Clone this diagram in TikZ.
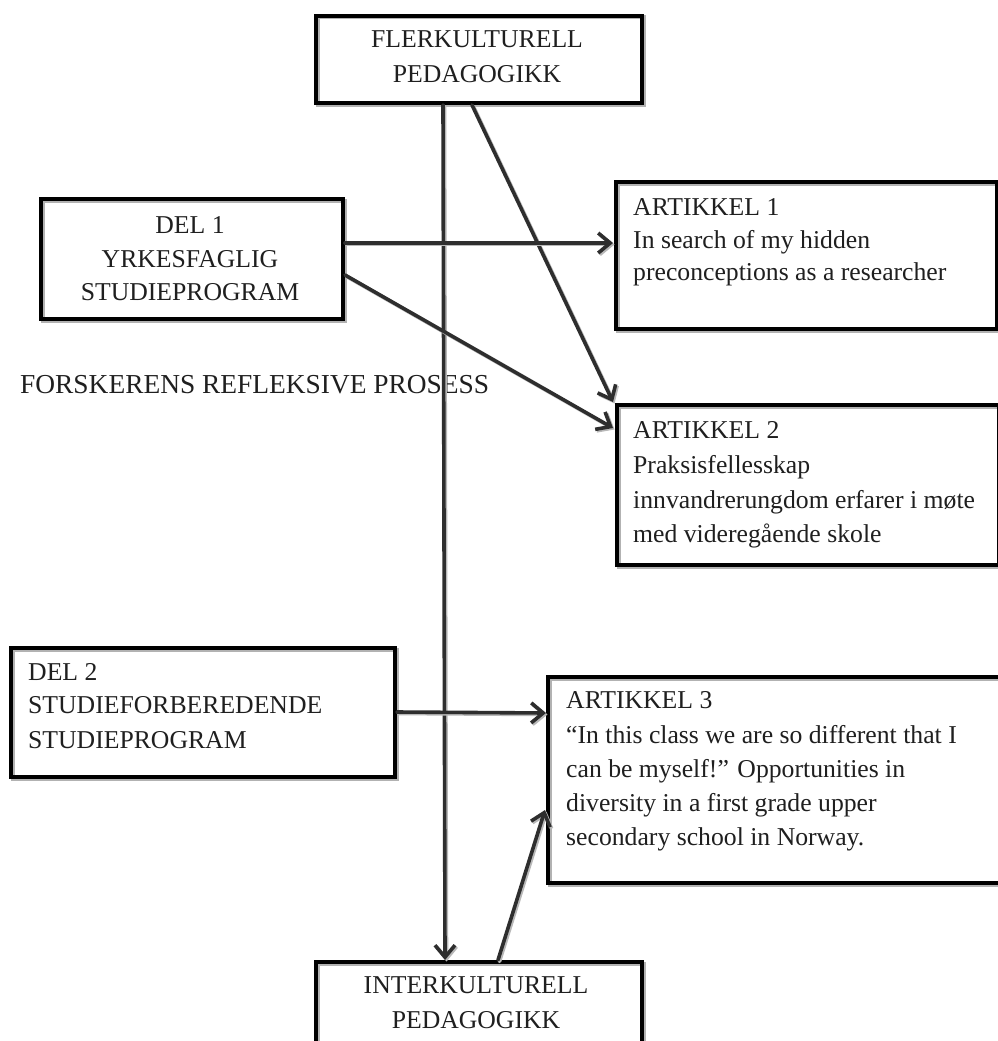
\documentclass[tikz,border=0pt]{standalone}
\usepackage{fontspec}
\setmainfont{Liberation Serif}
\usetikzlibrary{arrows.meta,calc}
\begin{document}
\begin{tikzpicture}[x=1pt,y=-1pt,
  box/.style={draw=black,line width=4pt,inner sep=0pt,anchor=north west,
    preaction={draw=black!30,line width=4pt,transform canvas={shift={(1.5pt,-1.5pt)}}}},
  txt/.style={anchor=base west,inner sep=0pt,font=\fontsize{25.7}{33}\selectfont,text=black!88},
  ctxt/.style={anchor=base,inner sep=0pt,font=\fontsize{25.7}{33}\selectfont,text=black!88},
  conn/.style={draw=black!82,line width=3.6pt,line cap=round,
    -{Straight Barb[length=12pt,width=20pt,line width=3.6pt]}},
  shade/.style={draw=black!28,line width=3.6pt,line cap=round,
    -{Straight Barb[length=12pt,width=20pt,line width=3.6pt]},
    transform canvas={shift={(1.5pt,-1.5pt)}}}
]
\useasboundingbox (0,0) rectangle (998,1041);
\clip (0,0) rectangle (998,1041);
\fill[white] (0,0) rectangle (998,1041);

% boxes
\node[box,minimum width=326pt,minimum height=87pt] (top) at (314,14) {};
\node[box,minimum width=302pt,minimum height=120pt] (del1) at (39,197) {};
\node[box,minimum width=381pt,minimum height=147pt] (art1) at (614,180) {};
\node[box,minimum width=382pt,minimum height=160pt] (art2) at (615,403) {};
\node[box,minimum width=384pt,minimum height=129pt] (del2) at (9,646) {};
\node[box,minimum width=470pt,minimum height=206pt] (art3) at (546,675) {};
\node[box,minimum width=326pt,minimum height=120pt] (inter) at (314,960) {};

% texts
\node[ctxt] (ta1) at (477,48) {FLERKULTURELL};
\node[ctxt] (ta2) at (477,82) {PEDAGOGIKK};

\node[ctxt] (tb1) at (190,233) {DEL 1};
\node[ctxt] (tb2) at (190,267) {YRKESFAGLIG};
\node[ctxt] (tb3) at (190,300) {STUDIEPROGRAM};

\node[txt] (tc1) at (633,215) {ARTIKKEL 1};
\node[txt] (tc2) at (633,248) {In search of my hidden};
\node[txt] (tc3) at (633,280) {preconceptions as a researcher};

\node[txt] (td1) at (633,438) {ARTIKKEL 2};
\node[txt] (td2) at (633,473) {Praksisfellesskap};
\node[txt] (td3) at (633,508) {innvandrerungdom erfarer i møte};
\node[txt] (td4) at (633,542) {med videregående skole};

\node[txt] (te1) at (28,680) {DEL 2};
\node[txt] (te2) at (28,713) {STUDIEFORBEREDENDE};
\node[txt] (te3) at (28,748) {STUDIEPROGRAM};

\node[txt] (tf1) at (566,708) {ARTIKKEL 3};
\node[txt] (tf2) at (566,743) {“In this class we are so different that I};
\node[txt] (tf3) at (566,777) {can be myself!” Opportunities in};
\node[txt] (tf4) at (566,811) {diversity in a first grade upper};
\node[txt] (tf5) at (566,845) {secondary school in Norway.};

\node[ctxt] (tg1) at (476,993) {INTERKULTURELL};
\node[ctxt] (tg2) at (476,1028) {PEDAGOGIKK};

\node[txt,font=\fontsize{27.4}{33}\selectfont] (lbl) at (20,393) {FORSKERENS REFLEKSIVE PROSESS};

% connector end points on the boxes
\coordinate (p1) at ($(top.south west)+(129,0)$);
\coordinate (q1) at ($(inter.north west)+(131,0)$);
\coordinate (p2) at ($(top.south west)+(158,0)$);
\coordinate (q2) at ($(art2.north west)+(-2,-1)$);
\coordinate (p3) at ($(del1.north east)+(0,46)$);
\coordinate (q3) at ($(art1.north west)+(-1,63)$);
\coordinate (p4) at ($(del1.north east)+(0,78)$);
\coordinate (q4) at ($(art2.north west)+(-2,25)$);
\coordinate (p5) at ($(del2.north east)+(0,66)$);
\coordinate (q5) at ($(art3.north west)+(0,38)$);
\coordinate (p6) at ($(inter.north west)+(184,0)$);
\coordinate (q6) at ($(art3.north west)+(-1,135)$);

\foreach \a/\b in {p1/q1,p2/q2,p3/q3,p4/q4,p5/q5,p6/q6}{
  \draw[shade] (\a) -- (\b);
  \draw[conn] (\a) -- (\b);
}
\end{tikzpicture}
\end{document}
